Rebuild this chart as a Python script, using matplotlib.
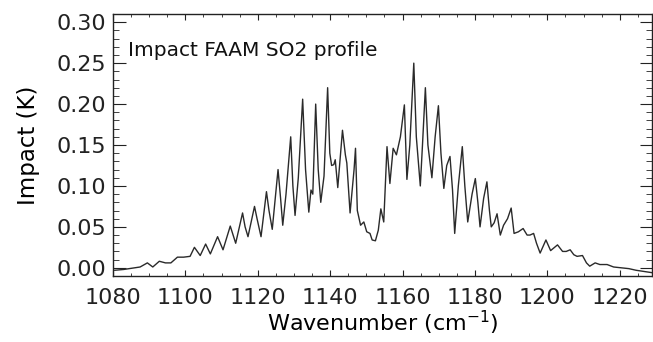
import numpy as np
import matplotlib
matplotlib.use("Agg")
import matplotlib.pyplot as plt
from matplotlib.ticker import MultipleLocator

plt.rcParams['font.family'] = ['DejaVu Sans']

# SO2 impact spectrum (K) vs wavenumber (cm-1)
wavenumber = [
    1080.5, 1083.0, 1086.0, 1087.5, 1089.5, 1091.0, 1092.8, 1094.5, 1096.0, 1097.8,
    1099.5, 1101.3, 1102.5, 1103.3, 1104.1, 1105.6, 1106.9, 1108.9, 1110.4, 1112.4,
    1113.9, 1115.8, 1116.5, 1117.3, 1119.1, 1119.8, 1120.9, 1122.4, 1123.1, 1124.0,
    1125.6, 1126.3, 1126.9, 1127.8, 1129.1, 1129.7, 1130.3, 1131.2, 1132.4, 1133.2,
    1134.1, 1134.7, 1135.2, 1136.0, 1136.7, 1137.4, 1138.3, 1139.3, 1139.9, 1140.4,
    1141.0, 1141.4, 1142.1, 1143.4, 1144.2, 1144.6, 1145.5, 1146.6, 1147.0, 1147.5,
    1148.4, 1149.3, 1150.1, 1151.0, 1151.6, 1152.5, 1153.3, 1154.0, 1154.8, 1155.7,
    1156.5, 1157.4, 1158.3, 1159.4, 1160.5, 1161.2, 1162.0, 1163.1, 1163.8, 1164.9,
    1165.5, 1166.3, 1167.0, 1168.1, 1169.0, 1169.9, 1170.6, 1171.4, 1172.2, 1173.1,
    1173.8, 1174.4, 1175.4, 1176.5, 1177.2, 1178.0, 1179.2, 1180.1, 1180.8, 1181.4,
    1182.4, 1183.3, 1184.0, 1184.5, 1185.3, 1186.1, 1187.0, 1187.9, 1189.0, 1190.0,
    1190.8, 1192.0, 1193.3, 1194.4, 1195.2, 1196.2, 1197.0, 1198.0, 1199.6, 1200.9,
    1202.8, 1204.2, 1205.2, 1206.3, 1207.3, 1208.2, 1209.7, 1210.8, 1211.7, 1213.2,
    1214.5, 1216.5, 1218.3, 1220.5, 1222.5, 1224.5, 1227.5, 1229.0,
]
impact = [
    -0.003, -0.002, 0.000, 0.001, 0.006, 0.001, 0.008, 0.006, 0.006, 0.013,
    0.013, 0.014, 0.025, 0.020, 0.015, 0.029, 0.017, 0.038, 0.022, 0.051,
    0.030, 0.067, 0.050, 0.038, 0.075, 0.060, 0.038, 0.093, 0.070, 0.047,
    0.120, 0.085, 0.052, 0.090, 0.160, 0.100, 0.064, 0.110, 0.206, 0.120,
    0.068, 0.095, 0.090, 0.200, 0.120, 0.080, 0.112, 0.220, 0.140, 0.125,
    0.126, 0.132, 0.098, 0.168, 0.138, 0.128, 0.067, 0.120, 0.146, 0.070,
    0.052, 0.056, 0.044, 0.042, 0.034, 0.033, 0.046, 0.072, 0.056, 0.148,
    0.103, 0.146, 0.138, 0.160, 0.199, 0.108, 0.150, 0.250, 0.160, 0.100,
    0.150, 0.220, 0.150, 0.110, 0.160, 0.198, 0.140, 0.097, 0.125, 0.136,
    0.095, 0.042, 0.100, 0.148, 0.100, 0.056, 0.090, 0.109, 0.080, 0.050,
    0.085, 0.105, 0.070, 0.050, 0.055, 0.066, 0.040, 0.052, 0.060, 0.073,
    0.042, 0.044, 0.048, 0.040, 0.040, 0.042, 0.030, 0.018, 0.034, 0.021,
    0.028, 0.020, 0.020, 0.022, 0.016, 0.014, 0.015, 0.006, 0.002, 0.006,
    0.004, 0.004, 0.001, 0.000, -0.001, -0.003, -0.005, -0.006,
]

fig = plt.figure(figsize=(6.53, 3.42), dpi=100)
ax = fig.add_axes([0.173, 0.193, 0.826, 0.766])

ax.plot(wavenumber, impact, color='#2a2a2a', lw=1.0)

ax.set_xlim(1080, 1229)
ax.set_ylim(-0.01, 0.31)
ax.xaxis.set_major_locator(MultipleLocator(20))
ax.xaxis.set_minor_locator(MultipleLocator(5))
ax.yaxis.set_major_locator(MultipleLocator(0.05))
ax.yaxis.set_minor_locator(MultipleLocator(0.01))
ax.yaxis.set_major_formatter(plt.FormatStrFormatter('%.2f'))

ax.tick_params(axis='both', which='both', direction='in', top=True, right=True,
               labelsize=16, colors='#222222')
ax.tick_params(axis='x', which='major', length=4, pad=9)
ax.tick_params(axis='x', which='minor', length=2.5)
ax.tick_params(axis='y', which='major', length=9, pad=5)
ax.tick_params(axis='y', which='minor', length=4.5)
for sp in ax.spines.values():
    sp.set_linewidth(1.0)
    sp.set_color('#222222')

ax.set_xlabel('Wavenumber (cm$^{-1}$)', fontsize=16, labelpad=0)
ax.set_ylabel('Impact (K)', fontsize=16.5, labelpad=12)
ax.text(0.027, 0.86, 'Impact FAAM SO2 profile', transform=ax.transAxes,
        fontsize=14.5, color='#111111', va='center')

fig.savefig('out.png', dpi=100)
